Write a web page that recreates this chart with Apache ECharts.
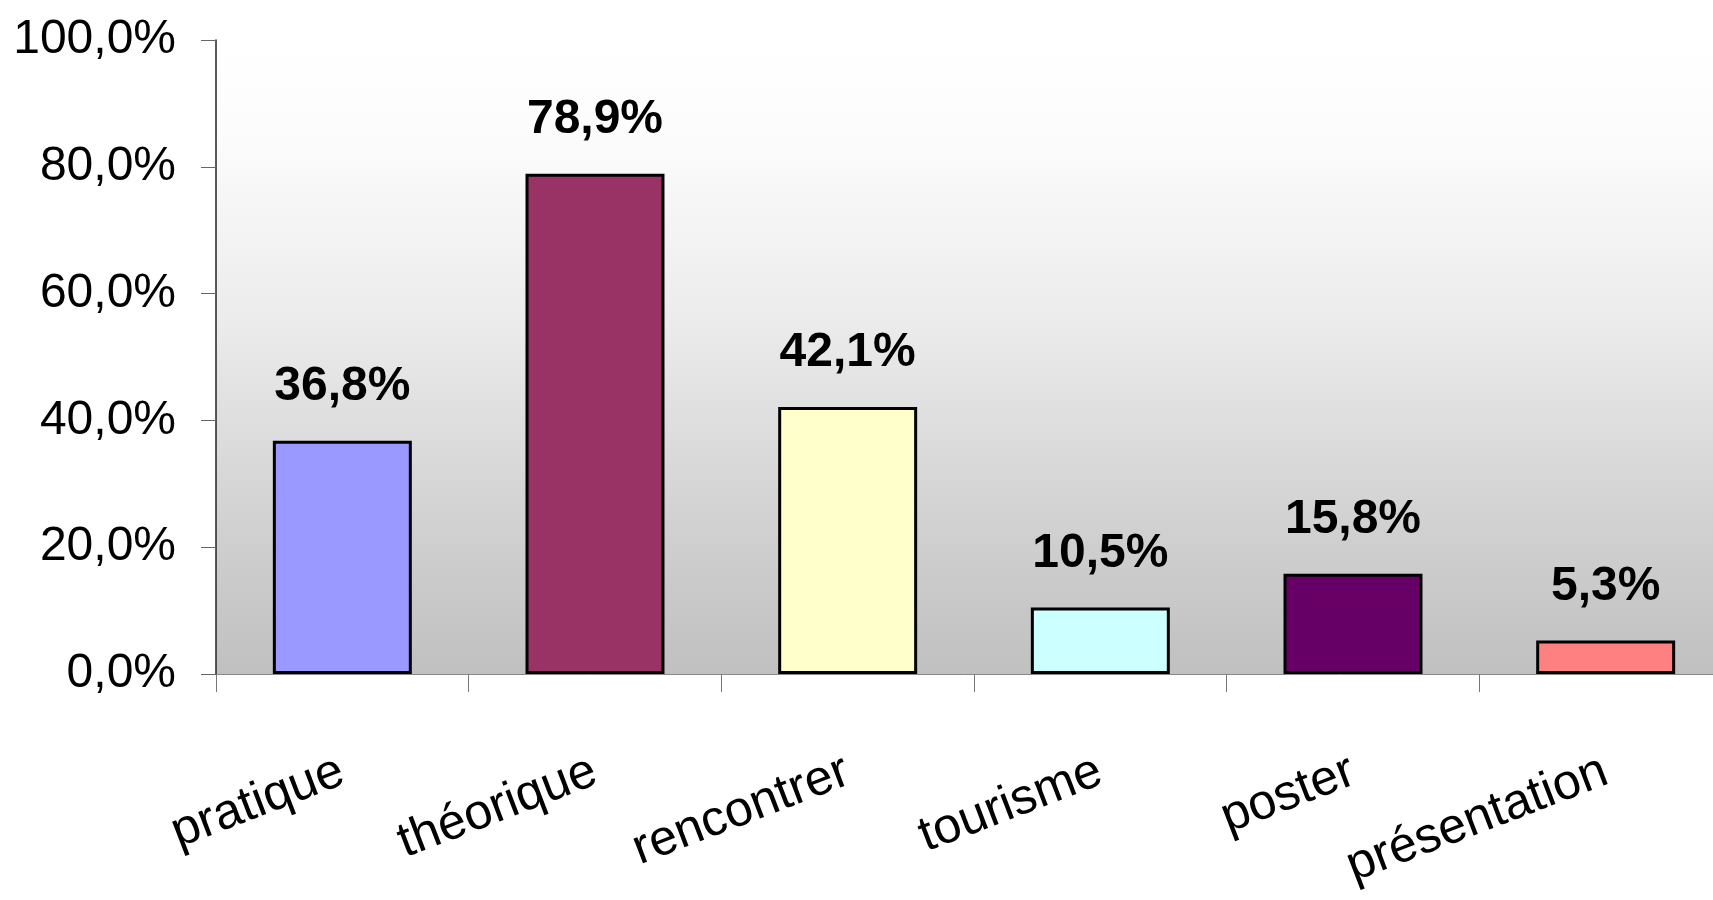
<!DOCTYPE html>
<html>
<head>
<meta charset="utf-8">
<script src="https://cdn.jsdelivr.net/npm/echarts@6/dist/echarts.min.js"></script>
<style>
html,body{margin:0;padding:0;background:#fff;}
#main{width:1713px;height:900px;}
</style>
</head>
<body>
<div id="main"></div>
<script>
const categories = ['pratique', 'théorique', 'rencontrer', 'tourisme', 'poster', 'présentation'];
const values = [36.8, 78.9, 42.1, 10.5, 15.8, 5.3];
const barColors = ['#9999FF', '#993366', '#FFFFCC', '#CCFFFF', '#660066', '#FF8080'];
const yTicks = [0, 20, 40, 60, 80, 100];

const FONT = "'Liberation Sans', Arial, sans-serif";
const fmt = v => v.toFixed(1).replace('.', ',') + '%';

const chart = echarts.init(document.getElementById('main'));
chart.setOption({
  animation: false,
  grid: {
    left: 216, top: 40, bottom: 226, right: -19,
    containLabel: false,
    outerBoundsMode: 'none',
    show: true, borderWidth: 0,
    backgroundColor: new echarts.graphic.LinearGradient(0, 0, 0, 1, [
      {offset: 0, color: '#ffffff'},
      {offset: 0.15, color: '#fcfcfc'},
      {offset: 0.45, color: '#ebebeb'},
      {offset: 0.75, color: '#d2d2d2'},
      {offset: 1, color: '#c0c0c0'}
    ])
  },
  xAxis: {
    type: 'category',
    data: categories,
    axisLine: {lineStyle: {color: '#888888', width: 1}},
    axisTick: {show: true, length: 18, lineStyle: {color: '#777777'}},
    axisLabel: {
      rotate: 21, margin: 96, color: '#000',
      fontFamily: FONT, fontSize: 50, interval: 0
    }
  },
  yAxis: {
    type: 'value',
    min: yTicks[0], max: yTicks[yTicks.length - 1], interval: 20,
    axisLine: {show: true, lineStyle: {color: '#222222', width: 1.5}},
    axisTick: {show: true, length: 15, lineStyle: {color: '#666666'}},
    splitLine: {show: false},
    axisLabel: {
      margin: 40, color: '#000',
      fontFamily: FONT, fontSize: 48,
      formatter: v => fmt(v)
    }
  },
  series: [{
    type: 'bar',
    data: values.map((v, i) => ({value: v, itemStyle: {color: barColors[i]}})),
    barWidth: '55%',
    itemStyle: {borderColor: '#000', borderWidth: 3},
    label: {
      show: true, position: 'top', distance: 30,
      color: '#000', fontWeight: 'bold',
      fontFamily: FONT, fontSize: 48,
      formatter: p => fmt(p.value)
    }
  }]
});
</script>
</body>
</html>
